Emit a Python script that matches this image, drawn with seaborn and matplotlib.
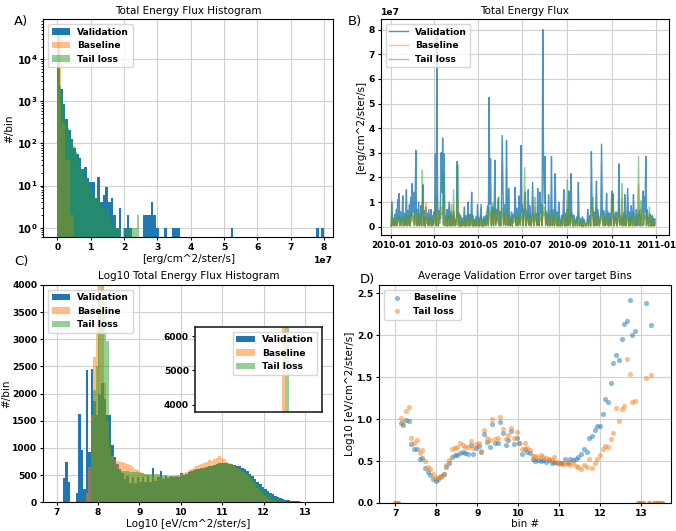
import numpy as np
import pandas as pd
import matplotlib
matplotlib.use("Agg")
import matplotlib.pyplot as plt
import matplotlib.dates as mdates
from matplotlib.ticker import FuncFormatter, MultipleLocator
import seaborn as sns

# ---------------- data ----------------
series_names = ["Validation", "Baseline", "Tail loss"]
colors = ["#1f77b4", "#ff7f0e", "#2ca02c"]

# Panel A: linear-bin histogram of flux (counts per bin), bin widths in erg/cm^2/ster/s
a_val_width = 0.08e7
a_val_counts = [51000, 2000, 870, 390, 210, 130, 80, 55, 45, 25,
                27, 15, 12, 12, 5, 16, 4, 6, 9, 4,
                5, 2, 1, 3, 0, 1, 2, 1, 0, 0,
                0, 0, 2, 2, 2, 4, 2, 1, 0, 0,
                1, 0, 0, 1, 1, 1, 0, 0, 0, 0,
                0, 0, 0, 0, 0, 0, 0, 0, 0, 0,
                0, 0, 0, 0, 0, 1, 0, 0, 0, 0,
                0, 0, 0, 0, 0, 0, 0, 0, 0, 0,
                0, 0, 0, 0, 0, 0, 0, 0, 0, 0,
                0, 0, 0, 0, 0, 0, 0, 1, 0, 1]
a_base_width = 0.122e7
a_base_counts = [50000, 300, 40, 2]
a_tail_width = 0.06e7
a_tail_counts = [45000, 2500, 1500, 700, 330, 230, 160, 120, 85, 62,
                 42, 30, 24, 17, 14, 12, 9, 7, 6, 5,
                 6, 4, 3, 3, 2, 3, 2, 1, 2, 1,
                 1, 1, 0, 1, 0, 1, 1, 1, 1, 1, 2]

# Panel B: daily flux, units of 1e5 erg/cm^2/ster/s
b_start = "2010-01-01"
b_val = [3, 100, 8, 35, 4, 50, 10, 70, 6, 110,
         30, 135, 5, 60, 9, 40, 125, 4, 55, 7,
         45, 150, 6, 65, 12, 90, 5, 120, 40, 175,
         60, 140, 8, 80, 310, 6, 70, 10, 100, 5,
         30, 85, 4, 60, 170, 8, 65, 3, 80, 30,
         55, 7, 70, 5, 35, 70, 4, 45, 9, 60,
         40, 295, 6, 780, 120, 5, 65, 30, 110, 300,
         140, 360, 8, 295, 60, 5, 35, 70, 4, 55,
         100, 6, 60, 3, 45, 8, 60, 35, 5, 20,
         40, 265, 7, 30, 55, 4, 45, 2, 35, 6,
         30, 80, 3, 45, 5, 35, 100, 4, 50, 8,
         35, 140, 5, 45, 3, 30, 6, 40, 4, 90,
         6, 35, 3, 45, 90, 5, 30, 2, 40, 7,
         45, 5, 60, 85, 8, 525, 90, 275, 6, 45,
         80, 5, 60, 270, 8, 70, 30, 65, 120, 6,
         60, 4, 80, 370, 195, 9, 90, 40, 7, 350,
         80, 6, 155, 45, 5, 30, 60, 4, 50, 35,
         60, 160, 7, 75, 30, 5, 125, 45, 8, 330,
         60, 90, 6, 70, 50, 140, 5, 65, 30, 150,
         8, 85, 35, 5, 45, 180, 40, 6, 30, 55,
         45, 7, 155, 40, 5, 140, 55, 90, 6, 800,
         280, 95, 285, 8, 60, 35, 6, 130, 45, 5,
         40, 285, 6, 35, 70, 4, 215, 55, 7, 60,
         4, 100, 40, 3, 20, 45, 5, 60, 150, 6,
         55, 4, 40, 70, 6, 145, 45, 5, 215, 35,
         50, 3, 45, 30, 5, 25, 40, 4, 180, 30,
         5, 15, 35, 2, 40, 3, 30, 15, 2, 10,
         20, 70, 3, 35, 45, 5, 305, 90, 50, 6,
         60, 5, 75, 185, 6, 70, 35, 4, 25, 60,
         335, 70, 6, 65, 30, 5, 45, 135, 8, 60,
         4, 55, 40, 6, 145, 60, 130, 5, 50, 25,
         60, 5, 55, 40, 255, 7, 45, 35, 4, 30,
         55, 6, 130, 35, 5, 45, 155, 50, 4, 60,
         5, 85, 30, 6, 130, 45, 4, 30, 70, 5,
         50, 6, 65, 35, 4, 45, 70, 145, 6, 120,
         60, 285, 5, 70, 35, 4, 30, 50, 3, 40,
         45, 4, 35, 5, 30]
b_base = [2, 60, 4, 15, 2, 18, 5, 20, 2, 25,
          15, 30, 2, 20, 3, 18, 25, 2, 20, 4,
          18, 35, 2, 25, 5, 30, 2, 40, 18, 45,
          22, 30, 3, 30, 50, 2, 25, 4, 35, 2,
          15, 30, 2, 100, 40, 3, 25, 2, 100, 12,
          22, 3, 25, 2, 15, 25, 2, 18, 4, 22,
          15, 45, 2, 85, 35, 2, 22, 12, 32, 55,
          35, 60, 95, 3, 22, 30, 2, 25, 2, 22,
          30, 2, 22, 60, 3, 8, 90, 2, 22, 4,
          18, 45, 110, 2, 22, 2, 18, 3, 15, 2,
          15, 30, 2, 18, 2, 15, 35, 2, 22, 3,
          15, 35, 2, 18, 2, 15, 3, 18, 2, 30,
          3, 15, 2, 18, 30, 2, 15, 2, 18, 4,
          18, 2, 25, 30, 3, 55, 32, 42, 2, 18,
          65, 2, 25, 50, 4, 30, 15, 75, 35, 3,
          25, 2, 32, 55, 42, 3, 35, 18, 2, 50,
          32, 3, 35, 18, 2, 15, 25, 2, 22, 15,
          25, 40, 3, 30, 15, 2, 32, 18, 4, 42,
          25, 35, 2, 30, 120, 32, 2, 25, 15, 35,
          4, 32, 15, 2, 18, 40, 18, 3, 80, 22,
          18, 3, 40, 18, 2, 35, 22, 32, 3, 65,
          50, 32, 55, 4, 25, 15, 2, 35, 18, 2,
          18, 50, 3, 15, 30, 2, 42, 22, 3, 25,
          2, 30, 18, 2, 10, 18, 2, 25, 35, 3,
          22, 2, 18, 110, 3, 35, 18, 2, 42, 15,
          22, 2, 18, 15, 2, 12, 18, 2, 35, 15,
          2, 8, 15, 2, 18, 2, 15, 8, 2, 6,
          10, 22, 2, 15, 18, 2, 55, 32, 80, 3,
          25, 2, 32, 42, 3, 30, 15, 2, 12, 25,
          50, 30, 3, 25, 15, 2, 18, 35, 4, 25,
          2, 22, 18, 3, 40, 25, 90, 2, 22, 12,
          25, 2, 22, 18, 50, 4, 18, 15, 110, 2,
          22, 3, 35, 15, 2, 18, 42, 22, 2, 25,
          3, 30, 15, 2, 40, 18, 2, 15, 30, 3,
          22, 170, 30, 2, 70, 18, 2, 35, 22, 32,
          25, 42, 2, 30, 15, 2, 55, 22, 2, 18,
          22, 2, 15, 2, 12]
b_tail = [2, 100, 5, 20, 3, 25, 6, 30, 2, 40,
          20, 45, 3, 30, 4, 25, 40, 2, 30, 5,
          25, 50, 3, 35, 6, 40, 2, 55, 25, 60,
          30, 45, 4, 40, 70, 3, 35, 5, 50, 2,
          20, 40, 3, 230, 55, 4, 35, 2, 40, 15,
          30, 4, 35, 3, 20, 35, 2, 25, 5, 30,
          20, 60, 3, 120, 50, 2, 30, 15, 45, 80,
          50, 90, 220, 4, 30, 40, 3, 35, 2, 30,
          45, 3, 30, 90, 4, 10, 150, 2, 30, 5,
          25, 60, 250, 3, 30, 2, 25, 4, 20, 3,
          20, 40, 2, 25, 3, 20, 50, 2, 30, 4,
          20, 50, 3, 25, 2, 20, 4, 25, 3, 40,
          4, 20, 2, 25, 40, 3, 20, 2, 25, 5,
          25, 3, 35, 40, 4, 80, 45, 60, 3, 25,
          95, 3, 35, 70, 5, 40, 20, 110, 50, 4,
          35, 3, 45, 75, 60, 4, 50, 25, 3, 70,
          45, 4, 50, 25, 3, 20, 35, 2, 30, 20,
          35, 55, 4, 40, 20, 3, 45, 25, 5, 60,
          35, 50, 3, 40, 240, 45, 3, 35, 20, 50,
          5, 45, 20, 3, 25, 55, 25, 4, 120, 30,
          25, 4, 55, 25, 3, 50, 30, 45, 4, 90,
          70, 45, 80, 5, 35, 20, 3, 50, 25, 3,
          25, 70, 4, 20, 40, 2, 60, 30, 4, 35,
          3, 40, 25, 2, 12, 25, 3, 35, 50, 4,
          30, 3, 25, 190, 4, 50, 25, 3, 60, 20,
          30, 2, 25, 20, 3, 15, 25, 2, 50, 20,
          3, 10, 20, 2, 25, 2, 20, 10, 2, 8,
          12, 30, 2, 20, 25, 3, 80, 45, 120, 4,
          35, 3, 45, 60, 4, 40, 20, 3, 15, 35,
          70, 40, 4, 35, 20, 3, 25, 50, 5, 35,
          3, 30, 25, 4, 55, 35, 135, 3, 30, 15,
          35, 3, 30, 25, 70, 5, 25, 20, 175, 3,
          30, 4, 50, 20, 3, 25, 60, 30, 2, 35,
          4, 40, 20, 3, 55, 25, 3, 20, 40, 4,
          30, 285, 40, 3, 105, 25, 3, 50, 30, 45,
          35, 60, 3, 40, 20, 2, 80, 30, 2, 25,
          30, 2, 20, 3, 15]

# Panel C: histogram of log10 flux (100 bins from 7.15 to 13.3)
c_lo, c_hi = 7.15, 13.3
c_val = [440, 740, 370, 0, 0, 170, 1620, 960, 250, 2430,
         930, 2450, 1870, 1600, 2000, 2200, 1900, 1600, 1600, 1050,
         840, 700, 620, 540, 420, 480, 350, 460, 360, 470,
         380, 460, 370, 480, 380, 640, 400, 470, 580, 430,
         480, 450, 480, 470, 480, 470, 540, 500, 520, 560,
         580, 600, 610, 620, 630, 640, 650, 660, 670, 690,
         700, 720, 730, 730, 720, 710, 700, 690, 670, 660,
         640, 610, 570, 520, 480, 430, 380, 330, 280, 250,
         210, 180, 150, 120, 100, 80, 60, 50, 40, 32,
         25, 20, 15, 12, 10, 6, 2, 0, 0, 8]
c_base = [0, 0, 0, 0, 0, 0, 0, 0, 0, 165,
          650, 1600, 2680, 3300, 7000, 3600, 2200, 1500, 1000, 850,
          780, 760, 750, 740, 720, 700, 680, 650, 620, 590,
          560, 540, 520, 510, 500, 490, 480, 480, 470, 470,
          470, 470, 480, 480, 490, 500, 520, 540, 560, 590,
          620, 640, 660, 680, 700, 720, 740, 770, 760, 790,
          810, 850, 820, 790, 750, 720, 700, 660, 640, 610,
          580, 540, 500, 450, 400, 330, 270, 200, 150, 110,
          80, 50, 30, 15, 5, 2, 0, 0, 0, 0,
          0, 0, 0, 0, 0, 0, 0, 0, 0, 0]
c_tail = [0, 0, 0, 0, 0, 0, 0, 0, 0, 0,
          0, 1500, 2070, 2500, 3700, 7000, 3700, 2960, 1100, 800,
          680, 620, 600, 580, 570, 570, 560, 560, 550, 550,
          540, 540, 530, 530, 530, 530, 520, 520, 510, 510,
          500, 490, 480, 480, 470, 480, 490, 510, 530, 550,
          570, 590, 600, 610, 620, 630, 640, 660, 670, 690,
          700, 710, 730, 730, 720, 710, 690, 670, 650, 620,
          590, 560, 520, 480, 440, 390, 340, 290, 240, 200,
          160, 130, 100, 75, 55, 40, 28, 18, 10, 5,
          2, 0, 0, 0, 0, 0, 0, 0, 0, 0]

# Panel D: average validation error per target bin (100 bins, 7.0 .. 13.5)
d_lo, d_hi = 7.0, 13.5
d_base = [0, 0, 0.96, 0.93, 0.99, 0.98, 0.70, 0.65, 0.65, 0.52,
          0.54, 0.42, 0.37, 0.33, 0.29, 0.26, 0.29, 0.32, 0.35, 0.43,
          0.48, 0.55, 0.57, 0.57, 0.60, 0.61, 0.60, 0.58, 0.69, 0.58,
          0.66, 0.68, 0.61, 0.82, 0.73, 0.67, 0.94, 0.71, 0.71, 0.97,
          0.84, 0.69, 0.75, 0.86, 0.70, 0.77, 0.72, 0.59, 0.65, 0.61,
          0.60, 0.52, 0.50, 0.51, 0.50, 0.51, 0.49, 0.51, 0.48, 0.49,
          0.48, 0.48, 0.48, 0.53, 0.48, 0.53, 0.51, 0.53, 0.55, 0.58,
          0.64, 0.61, 0.77, 0.80, 0.87, 0.92, 0.92, 1.06, 1.24, 1.20,
          1.43, 1.67, 1.77, 1.70, 1.96, 2.14, 2.17, 2.42, 2.00, 2.05,
          0, 0, 0, 2.38, 0, 2.12, 0, 0, 0, 0]
d_tail = [0, 0, 1.01, 0.97, 1.10, 1.15, 0.78, 0.72, 0.75, 0.60,
          0.63, 0.50, 0.43, 0.40, 0.34, 0.30, 0.31, 0.31, 0.35, 0.45,
          0.51, 0.65, 0.66, 0.67, 0.72, 0.69, 0.67, 0.67, 0.74, 0.66,
          0.70, 0.72, 0.62, 0.87, 0.78, 0.75, 1.00, 0.76, 0.78, 1.02,
          0.88, 0.76, 0.81, 0.90, 0.77, 0.85, 0.72, 0.64, 0.72, 0.66,
          0.63, 0.56, 0.56, 0.55, 0.57, 0.55, 0.54, 0.53, 0.51, 0.55,
          0.49, 0.48, 0.47, 0.46, 0.49, 0.45, 0.48, 0.44, 0.43, 0.41,
          0.45, 0.43, 0.52, 0.42, 0.48, 0.53, 0.57, 0.64, 0.68, 0.67,
          0.76, 0.84, 1.13, 0.98, 1.12, 1.16, 1.72, 1.54, 1.20, 1.22,
          0, 0, 0, 1.49, 0, 1.53, 0, 0, 0, 0]

# ---------------- style ----------------
plt.rcParams.update({
    "font.family": ["DejaVu Sans"],
    "font.weight": "bold",
    "axes.titleweight": "normal",
    "axes.labelweight": "normal",
    "axes.titlesize": 7.5,
    "axes.labelsize": 7.5,
    "axes.labelpad": 1.5,
    "xtick.labelsize": 6.6,
    "ytick.labelsize": 6.6,
    "xtick.major.size": 2.5,
    "ytick.major.size": 2.5,
    "xtick.minor.size": 1.5,
    "ytick.minor.size": 1.5,
    "xtick.major.pad": 1.8,
    "ytick.major.pad": 1.8,
    "legend.fontsize": 6.6,
    "axes.linewidth": 0.8,
})

W, H = 676, 531
fig = plt.figure(figsize=(W / 100, H / 100), dpi=100)


def px_axes(left, top, width, height):
    return fig.add_axes([left / W, 1 - (top + height) / H, width / W, height / H])


def hist(ax, counts, edges, color, alpha, label):
    edges = np.asarray(edges, dtype=float)
    centers = 0.5 * (edges[:-1] + edges[1:])
    df = pd.DataFrame({"x": centers, "w": np.asarray(counts, dtype=float)})
    sns.histplot(data=df, x="x", weights="w", bins=list(edges), color=color, alpha=alpha,
                 linewidth=0, label=label, ax=ax, stat="count")


def style_grid(ax):
    ax.grid(True, color="#d0d0d0", linewidth=0.8)
    ax.set_axisbelow(True)


alphas = [1.0, 0.5, 0.5]

# ---- Panel A ----
axA = px_axes(43.3, 19.3, 290, 218)
a_sets = [(a_val_counts, a_val_width), (a_base_counts, a_base_width), (a_tail_counts, a_tail_width)]
for (cnts, w), name, col, al in zip(a_sets, series_names, colors, alphas):
    edges = np.arange(len(cnts) + 1) * w
    hist(axA, cnts, edges, col, al, name)
axA.set_yscale("log")
axA.set_ylim(10 ** -0.23, 10 ** 4.95)
axA.set_xlim(-0.42e7, 8.28e7)
axA.xaxis.set_major_locator(MultipleLocator(1e7))
axA.yaxis.set_major_formatter(FuncFormatter(lambda v, p: r"$\mathbf{10^{%d}}$" % round(np.log10(v))))
axA.tick_params(axis="y", which="major", labelsize=7.2)
axA.set_title("Total Energy Flux Histogram", pad=4)
axA.set_xlabel("[erg/cm^2/ster/s]")
axA.set_ylabel("#/bin")
style_grid(axA)
axA.legend(loc="upper left")

# ---- Panel B ----
axB = px_axes(381, 19.3, 288, 216)
dates = pd.date_range(b_start, periods=len(b_val), freq="D")
b_sets = [b_val, b_base, b_tail]
b_alphas = [0.8, 0.5, 0.5]
for vals, name, col, al in zip(b_sets, series_names, colors, b_alphas):
    sns.lineplot(x=dates, y=np.asarray(vals) * 1e5, color=col, alpha=al, linewidth=1.0,
                 label=name, ax=axB, estimator=None)
axB.set_xlim(pd.Timestamp("2009-12-18"), pd.Timestamp("2011-01-19"))
axB.set_ylim(-0.35e7, 8.42e7)
axB.yaxis.set_major_locator(MultipleLocator(1e7))
axB.xaxis.set_major_locator(mdates.MonthLocator(bymonth=[1, 3, 5, 7, 9, 11]))
axB.xaxis.set_major_formatter(mdates.DateFormatter("%Y-%m"))
axB.tick_params(axis="x", labelsize=6.3)
axB.set_title("Total Energy Flux", pad=4)
axB.set_xlabel("")
axB.set_ylabel("[erg/cm^2/ster/s]")
style_grid(axB)
axB.legend(loc="upper left")

# ---- Panel C ----
axC = px_axes(43.3, 285, 290, 217.3)
c_edges = np.linspace(c_lo, c_hi, len(c_val) + 1)
c_sets = [c_val, c_base, c_tail]
for cnts, name, col, al in zip(c_sets, series_names, colors, alphas):
    hist(axC, cnts, c_edges, col, al, name)
axC.set_xlim(6.68, 13.68)
axC.set_ylim(0, 4000)
axC.yaxis.set_major_locator(MultipleLocator(500))
axC.set_title("Log10 Total Energy Flux Histogram", pad=4)
axC.set_xlabel("Log10 [eV/cm^2/ster/s]")
axC.set_ylabel("#/bin", labelpad=0.5)
style_grid(axC)
axC.legend(loc="upper left")

ins = axC.inset_axes([0.523, 0.416, 0.438, 0.391])
for cnts, name, col, al in zip(c_sets, series_names, colors, alphas):
    hist(ins, cnts, c_edges, col, al, name)
ins.set_xlim(6.49, 8.72)
ins.set_ylim(3790, 6270)
ins.set_yticks([4000, 5000, 6000])
ins.set_xticks([])
ins.set_xlabel("")
ins.set_ylabel("")
ins.set_facecolor("white")
for s in ins.spines.values():
    s.set_linewidth(1.2)
    s.set_color("#222222")
ins.legend(loc="upper right")

# ---- Panel D ----
axD = px_axes(379.3, 285, 291.7, 218)
d_x = np.linspace(d_lo, d_hi, len(d_base))
for vals, name, col in zip([d_base, d_tail], series_names[1:], colors[:2]):
    sns.scatterplot(x=d_x, y=vals, color=col, alpha=0.5, s=14, linewidth=0,
                    label=name, ax=axD)
axD.set_xlim(6.61, 13.72)
axD.set_ylim(0, 2.6)
axD.yaxis.set_major_locator(MultipleLocator(0.5))
axD.set_title("Average Validation Error over target Bins", pad=4)
axD.set_xlabel("bin #", labelpad=0.5)
axD.set_ylabel("Log10 [eV/cm^2/ster/s]")
style_grid(axD)
axD.legend(loc="upper left")

# panel letters
for txt, x, y in [("A)", 14, 21), ("B)", 348, 21), ("C)", 14, 262), ("D)", 360, 280)]:
    fig.text(x / W, 1 - y / H, txt, fontsize=9.5, fontweight="normal", va="center", ha="left")

fig.savefig("out.png", dpi=100)
